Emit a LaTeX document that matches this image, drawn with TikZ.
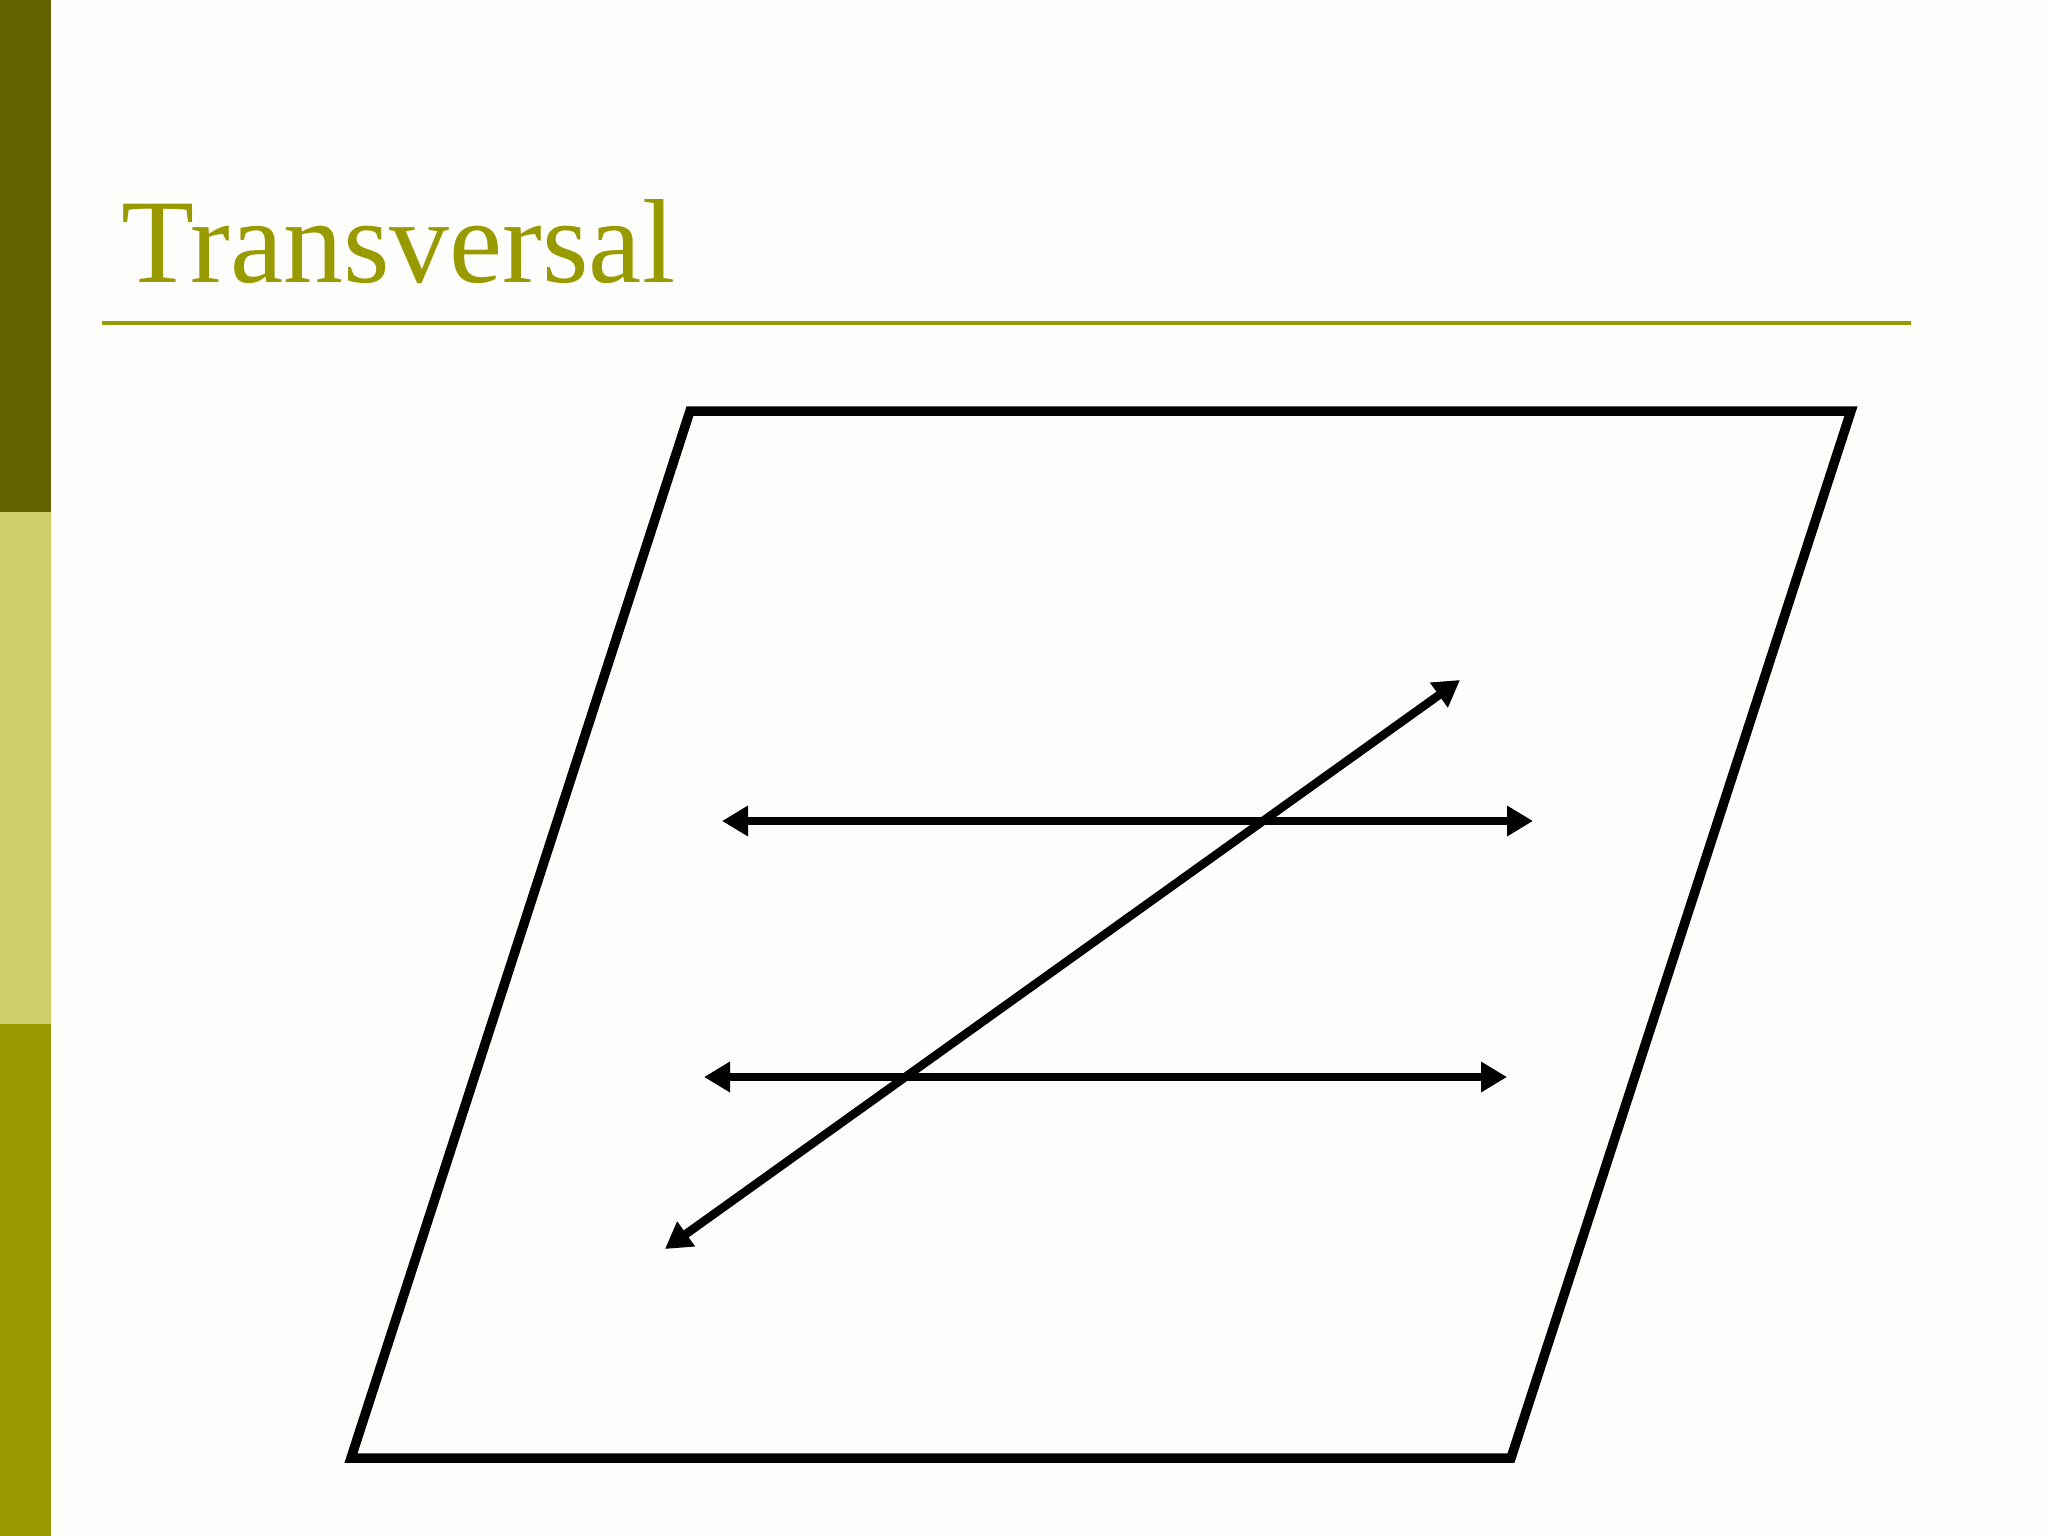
\documentclass[tikz,border=0pt]{standalone}
\usepackage{fontspec}
\setmainfont{Liberation Serif}
\usetikzlibrary{arrows.meta,positioning}
\definecolor{olivedark}{HTML}{636300}
\definecolor{olivelight}{HTML}{CFCF6E}
\definecolor{olivemid}{HTML}{999900}
\definecolor{background}{HTML}{FDFEFB}
\tikzset{%
	>={Triangle[width=2.9mm,length=2.6mm]},
	% Specifications for style of shapes:
	band/.style = {draw=none},
	plane/.style = {line width=0.095cm, line join=miter},
	line/.style = {line width=0.085cm, <->},
	title/.style = {anchor=base west, inner sep=0pt, text=olivemid,
	font=\fontsize{34}{40}\selectfont}
}

\begin{document}
\begin{tikzpicture}[x=0.01cm, y=-0.01cm]
		% Background and side bands
		\fill[background] (0,0) rectangle (2048,1536);
		\useasboundingbox (0,0) rectangle (2048,1536);
		\fill[band, olivedark] (0,0) rectangle (51,512);
		\fill[band, olivelight] (0,512) rectangle (51,1024);
		\fill[band, olivemid] (0,1024) rectangle (51,1536);
		
		% Title and rule
		\node (title) [title] at (121,282) {Transversal};
		\draw[olivemid, line width=0.04cm] (102,323) -- (1911,323);
		
		% Specification of the plane
		\coordinate (p1) at (690,411);
		\coordinate (p2) at (1851,411);
		\coordinate (p3) at (1511,1458);
		\coordinate (p4) at (351,1458);
		\draw[plane] (p1) -- (p2) -- (p3) -- (p4) -- cycle;
		
		% Parallel lines and the transversal
		\coordinate (m1) at (722,821);
		\coordinate (m2) at (1533,821);
		\coordinate (n1) at (704,1077);
		\coordinate (n2) at (1507,1077);
		\coordinate (t1) at (665,1249);
		\coordinate (t2) at (1460,680);
		\draw[line] (m1) -- (m2);
		\draw[line] (n1) -- (n2);
		\draw[line] (t1) -- (t2);
		
\end{tikzpicture}
\end{document}
